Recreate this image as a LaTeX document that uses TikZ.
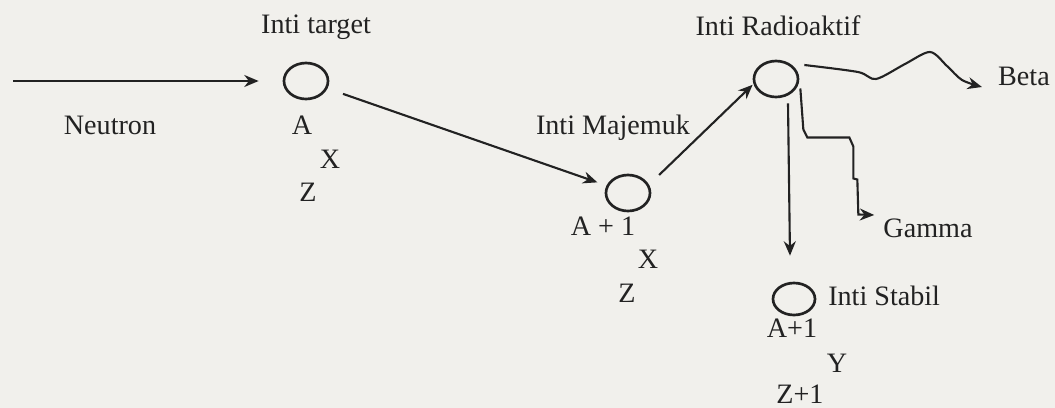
\documentclass[tikz,border=0pt]{standalone}
\usepackage{fontspec}
\setmainfont{Liberation Serif}
\usepackage{xcolor}
\usetikzlibrary{arrows.meta, positioning, shapes.geometric}
\definecolor{paperc}{RGB}{241,240,236}
\definecolor{inkc}{RGB}{34,34,34}

\begin{document}
\begin{tikzpicture}[x=0.025cm, y=-0.025cm,
    nuc/.style={draw=inkc, ellipse, line width=1.9pt, minimum width=1.1cm,
      minimum height=0.9cm, inner sep=0pt},
    lbl/.style={font=\fontsize{20}{24}\selectfont, text=inkc, anchor=base, inner sep=0pt},
    arr/.style={-{Stealth[length=3.6mm, width=3mm]}, line width=1.5pt, inkc}]
  \fill[paperc] (0,0) rectangle (1055,408);
  \useasboundingbox (0,0) rectangle (1055,408);
  \node[nuc] (t) at (306,81) {};
  \node[nuc] (c) at (628,193) {};
  \node[nuc] (r) at (776,79) {};
  \node[nuc, minimum width=1.05cm, minimum height=0.8cm] (s) at (794,299) {};
  % names of the nuclei
  \node[lbl] (tname) at (316,33) {Inti target};
  \node[lbl] (neu) at (110,134) {Neutron};
  \node[lbl] (cname) at (613,134) {Inti Majemuk};
  \node[lbl] (rname) at (778,35) {Inti Radioaktif};
  \node[lbl, anchor=base west] (sname) at (828,305) {Inti Stabil};
  \node[lbl] (gam) at (928,237) {Gamma};
  \node[lbl] (beta) at (1024,85) {Beta};
  % mass number, element, atomic number
  \foreach \n/\x/\y/\txt in {ta/302/134/A, tx/330/168/X, tz/308/201/Z,
      ca/603/235/A + 1, cx/648/268/X, cz/627/302/Z,
      sa/792/337/A+1, sy/837/372/Y, sz/800/403/Z+1}
    \node[lbl] (\n) at (\x,\y) {\txt};
  \coordinate (nstart) at (13,81);
  \draw[arr] (nstart) -- ([xshift=-0.6cm]t.west);
  \draw[arr, shorten <=0.41cm, shorten >=0.24cm] (t) -- (c);
  \draw[arr] ([shift={(12,-7)}]c.30) -- ([shift={(-2,-2)}]r.200);
  \draw[arr] plot[smooth, tension=0.5] coordinates {([shift={(5,-14)}]r.east)
    (858,72) (876,79) (905,64) (930,52) (947,66) (962,80)
    ([shift={(-16,2)}]beta.base west)};
  \draw[arr] ([shift={(4,0)}]r.-25) -- ++(3,41) -- ++(4,8) -- ++(42,0)
    -- ++(4,9) -- ++(0,32) -- ++(4,1) -- ++(1,35)
    -- ([shift={(-9,-22)}]gam.base west);
  \draw[arr] ([shift={(12,5)}]r.south) -- ([shift={(-4,-26)}]s.north);
\end{tikzpicture}
\end{document}
